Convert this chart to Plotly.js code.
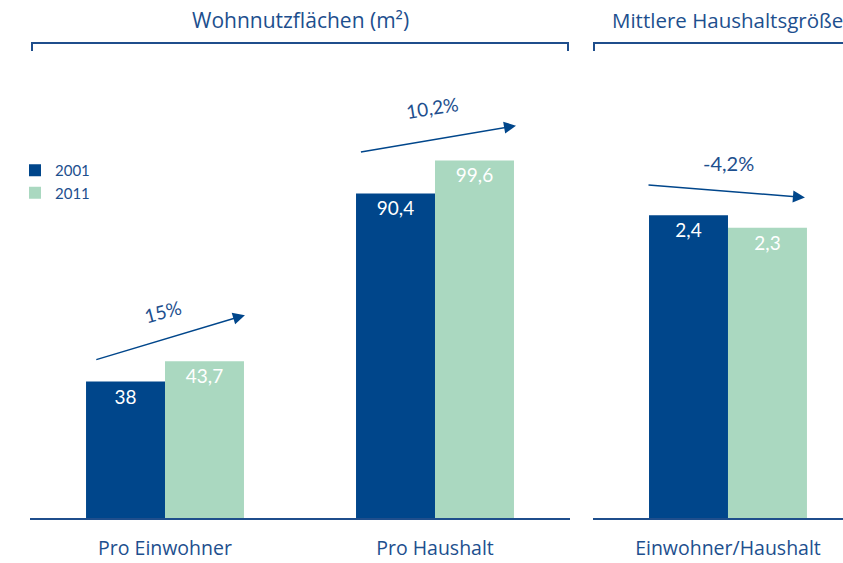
<!DOCTYPE html>
<html><head><meta charset="utf-8">
<script src="https://cdn.plot.ly/plotly-3.0.1.min.js"></script>
<style>html,body{margin:0;padding:0;background:#fff}#chart{width:843px;height:563px}</style>
</head><body><div id="chart"></div>
<script>
const areaCategories = ["Pro Einwohner", "Pro Haushalt"];
const area2001 = [38, 90.4];
const area2011 = [43.7, 99.6];
const hhCategories = ["Einwohner/Haushalt"];
const hh2001 = [2.4];
const hh2011 = [2.3];
const seriesNames = ["2001", "2011"];
const changeLabels = ["15%", "10,2%", "-4,2%"];
const panelTitles = ["Wohnnutzflächen (m²)", "Mittlere Haushaltsgröße"];

const C1 = "#00468b", C2 = "#aad8c0", TXT = "#1d4f8e";
const FONT = "Lato, Open Sans, sans-serif";
const FONT2 = "Open Sans, Lato, sans-serif";
const W = 843, H = 563;
const px = v => v / W, py = v => 1 - v / H;

const labelFont = {family: FONT, size: 19, color: "#ffffff"};
function bar(name, xs, ys, color, xa, ya, show) {
  return {type: "bar", name: name, x: xs, y: ys, xaxis: xa, yaxis: ya,
    marker: {color: color, line: {width: 0}}, showlegend: show,
    texttemplate: "%{y}", textposition: "inside", insidetextanchor: "end",
    textfont: labelFont, hoverinfo: "skip", cliponaxis: false};
}
const data = [
  bar(seriesNames[0], areaCategories, area2001, C1, "x", "y", true),
  bar(seriesNames[1], areaCategories, area2011, C2, "x", "y", true),
  bar(seriesNames[0], hhCategories, hh2001, C1, "x2", "y2", false),
  bar(seriesNames[1], hhCategories, hh2011, C2, "x2", "y2", false)
];

const yDom = [45 / H, 1];
const axisX = {showline: true, linecolor: "#1f4e8c", linewidth: 2, ticks: "", showgrid: false,
  zeroline: false, tickfont: {family: FONT2, size: 19.5, color: TXT}, ticklabelstandoff: 12, fixedrange: true};
const axisY = {visible: false, showgrid: false, zeroline: false, domain: yDom, fixedrange: true};

const arrowStyle = {showarrow: true, arrowhead: 2, arrowsize: 1.6, arrowwidth: 1.5, arrowcolor: "#00468b", text: ""};
const txt = (x, y, t, ang, size, fam) => ({xref: "paper", yref: "paper", x: px(x), y: py(y), text: t, showarrow: false,
  xanchor: "center", yanchor: "middle", textangle: ang, font: {family: fam, size: size, color: TXT}});
const annotations = [
  Object.assign({xref: "x", yref: "y", axref: "x", ayref: "y", x: 0.296, y: 56.5, ax: -0.26, ay: 44.0}, arrowStyle),
  Object.assign({xref: "x", yref: "y", axref: "x", ayref: "y", x: 1.3, y: 109.3, ax: 0.72, ay: 101.9}, arrowStyle),
  Object.assign({xref: "x2", yref: "y2", axref: "x2", ayref: "y2", x: 0.285, y: 2.54, ax: -0.3, ay: 2.64}, arrowStyle),
  txt(162, 311, changeLabels[0], -15, 19, FONT),
  txt(432, 108, changeLabels[1], -9, 19, FONT),
  txt(728, 163, changeLabels[2], 0, 20, FONT),
  txt(300, 20, panelTitles[0], 0, 21, FONT2),
  txt(727, 20, panelTitles[1], 0, 20.5, FONT2)
];
const lineC = {color: "#1f4e8c", width: 2};
const shapes = [
  {type: "line", xref: "paper", yref: "paper", x0: px(31), x1: px(569), y0: py(43), y1: py(43), line: lineC},
  {type: "line", xref: "paper", yref: "paper", x0: px(32), x1: px(32), y0: py(43), y1: py(51), line: lineC},
  {type: "line", xref: "paper", yref: "paper", x0: px(568), x1: px(568), y0: py(43), y1: py(51), line: lineC},
  {type: "line", xref: "paper", yref: "paper", x0: px(593), x1: 1, y0: py(43), y1: py(43), line: lineC},
  {type: "line", xref: "paper", yref: "paper", x0: px(594), x1: px(594), y0: py(43), y1: py(51), line: lineC}
];

const layout = {
  width: W, height: H, margin: {l: 0, r: 0, t: 0, b: 0},
  paper_bgcolor: "#ffffff", plot_bgcolor: "#ffffff",
  separators: ",.", barmode: "group", bargap: 0.415, bargroupgap: 0,
  font: {family: FONT, color: TXT},
  xaxis: Object.assign({domain: [30 / W, 570 / W], range: [-0.5, 1.5], anchor: "y"}, axisX),
  xaxis2: Object.assign({domain: [593 / W, 1], range: [-0.5, 0.426], anchor: "y2"}, axisX),
  yaxis: Object.assign({range: [0, 144.3], anchor: "x"}, axisY),
  yaxis2: Object.assign({range: [0, 4.105], anchor: "x2"}, axisY),
  legend: {x: px(15), y: py(154), xanchor: "left", yanchor: "top", bgcolor: "rgba(0,0,0,0)",
    font: {family: FONT, size: 15, color: TXT}, tracegroupgap: 0, itemwidth: 30},
  annotations: annotations, shapes: shapes, showlegend: true
};
Plotly.newPlot("chart", data, layout, {displayModeBar: false, staticPlot: true});
</script></body></html>
